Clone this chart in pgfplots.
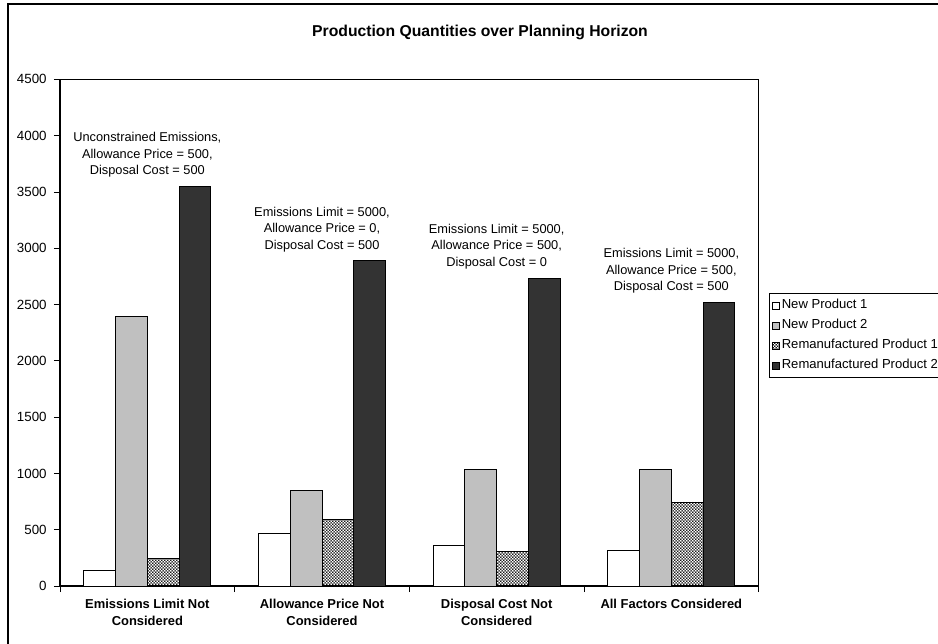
\documentclass[border=0pt]{standalone}
\usepackage{fontspec}
\setmainfont{Liberation Sans}
\usepackage{pgfplots}
\usepackage{pgfplotstable}
\pgfplotsset{compat=1.18}
\usetikzlibrary{patterns}

% fine staggered dot fill for the remanufactured product 1 bars
\pgfdeclarepatternformonly{finedots}{\pgfpointorigin}{\pgfqpoint{2.2pt}{2.2pt}}{\pgfqpoint{2.2pt}{2.2pt}}{%
  \pgfpathcircle{\pgfqpoint{0.55pt}{0.55pt}}{0.68pt}%
  \pgfpathcircle{\pgfqpoint{1.65pt}{1.65pt}}{0.68pt}%
  \pgfusepath{fill}}

\definecolor{np2}{RGB}{192,192,192}
\definecolor{rp2}{RGB}{51,51,51}

% production quantities per scenario
\pgfplotstableread{
x np1 np2 rp1 rp2
0 142 2395 243 3550
1 471 846 592 2888
2 361 1036 305 2735
3 320 1036 740 2520
}\prodtable

\begin{document}
\begin{tikzpicture}
\useasboundingbox (0,0) rectangle (703.5pt,482.25pt);
\draw[line width=1.4pt] (6pt,479.25pt) rectangle (730pt,-20pt);
\node[font=\bfseries\fontsize{11.8}{13}\selectfont] at (360pt,458.25pt) {Production Quantities over Planning Horizon};
\begin{axis}[
  at={(45pt,42.75pt)}, anchor=south west,
  width=524pt, height=380pt, scale only axis,
  ybar=0pt, bar width=23.85pt,
  xmin=-0.5, xmax=3.5, ymin=0, ymax=4500,
  ytick distance=500,
  % tick marks between the scenario groups, names centred in each interval
  xtick={-0.5,0.5,1.5,2.5,3.5},
  x tick label as interval,
  xticklabels={{Emissions Limit Not\\[2pt]Considered},{Allowance Price Not\\[2pt]Considered},{Disposal Cost Not\\[2pt]Considered},{All Factors Considered}},
  xticklabel style={font=\bfseries\fontsize{9.7}{11}\selectfont, align=center, yshift=-1.5pt},
  tick align=outside, xtick pos=bottom, ytick pos=left,
  major tick length=4.5pt,
  tick style={black, line width=0.6pt},
  axis line style={line width=0.9pt},
  /pgf/number format/assume math mode=true,
  /pgf/number format/1000 sep={},
  yticklabel style={font=\fontsize{10}{12}\selectfont, xshift=-2pt},
  every axis plot/.append style={draw=black, line width=0.7pt},
  legend style={at={(1.0147,0.578)}, anchor=north west, draw=black, line width=0.7pt,
    font=\fontsize{9.8}{11}\selectfont, row sep=3pt, inner xsep=2pt, inner ysep=3pt,
    nodes={inner sep=1.5pt, text height=7pt, text depth=2pt}},
  legend cell align=left,
  legend image code/.code={\draw[#1, line width=0.6pt] (0pt,-2.6pt) rectangle (5.2pt,2.6pt);},
]
\addplot[fill=white] table[x=x,y=np1]{\prodtable};
\addplot[fill=np2] table[x=x,y=np2]{\prodtable};
\addplot[pattern=finedots] table[x=x,y=rp1]{\prodtable};
\addplot[fill=rp2] table[x=x,y=rp2]{\prodtable};
\legend{New Product 1, New Product 2, Remanufactured Product 1, Remanufactured Product 2}

\begin{scope}[every node/.style={anchor=south, align=center, inner sep=0pt, yshift=6.5pt, font=\fontsize{9.6}{12.4}\selectfont}]
\node at (axis cs:0,3550) {Unconstrained Emissions,\\Allowance Price = 500,\\Disposal Cost = 500};
\node at (axis cs:1,2888) {Emissions Limit = 5000,\\Allowance Price = 0,\\Disposal Cost = 500};
\node at (axis cs:2,2735) {Emissions Limit = 5000,\\Allowance Price = 500,\\Disposal Cost = 0};
\node at (axis cs:3,2520) {Emissions Limit = 5000,\\Allowance Price = 500,\\Disposal Cost = 500};
\end{scope}
\end{axis}
\end{tikzpicture}
\end{document}
